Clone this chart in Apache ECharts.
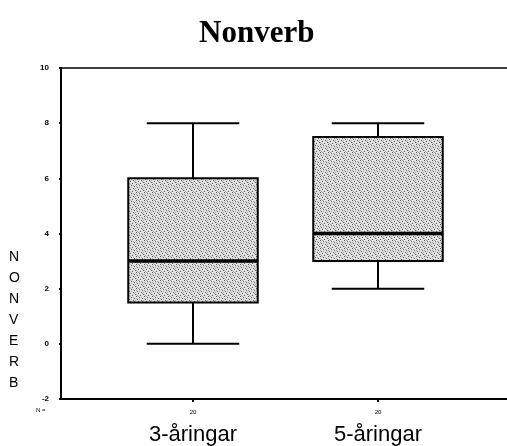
<!DOCTYPE html>
<html><head><meta charset="utf-8">
<script src="https://cdn.jsdelivr.net/npm/echarts@6/dist/echarts.min.js"></script>
<style>html,body{margin:0;padding:0;background:#fff}#c{width:507px;height:446px}</style>
</head><body><div id="c"></div>
<script>
const categories = ['3-åringar', '5-åringar'];
const nCounts = [20, 20];
const mins = [0, 2];
const q1s = [1.5, 3];
const medians = [3, 4];
const q3s = [6, 7.5];
const maxs = [8, 8];
const yTicks = [-2, 0, 2, 4, 6, 8, 10];

const boxData = categories.map((c, i) => [i, mins[i], q1s[i], medians[i], q3s[i], maxs[i]]);

// stipple pattern
const pc = document.createElement('canvas');
pc.width = 8; pc.height = 8;
const pctx = pc.getContext('2d');
pctx.fillStyle = '#e2e2e2'; pctx.fillRect(0, 0, 8, 8);
pctx.fillStyle = '#555';
[[0,0],[3,1],[6,2],[1,3],[5,4],[2,5],[7,6],[4,7]].forEach(p => pctx.fillRect(p[0], p[1], 1, 1));
pctx.fillStyle = '#aaa';
[[2,0],[5,1],[0,2],[3,3],[7,4],[6,5],[0,6],[1,7]].forEach(p => pctx.fillRect(p[0], p[1], 1, 1));

const chart = echarts.init(document.getElementById('c'), null, {renderer: 'canvas'});
chart.setOption({
  animation: false,
  title: {
    text: 'Nonverb', left: 194, top: 13,
    textStyle: {fontFamily: 'Liberation Serif', fontWeight: 'bold', fontSize: 31, color: '#000'}
  },
  graphic: [
    {type: 'text', left: 9, top: 247, style: {text: 'N\nO\nN\nV\nE\nR\nB', font: '14px "Liberation Sans"', lineHeight: 21, fill: '#000', align: 'center'}},
    {type: 'text', left: 36, top: 407, style: {text: 'N =', font: '6px "Liberation Sans"', fill: '#000'}}
  ],
  grid: [
    {left: 61, right: 0, top: 68, bottom: 47},
    {left: 100.5, width: 370, top: 68, bottom: 47}
  ],
  xAxis: [
    {gridIndex: 0, type: 'value', min: 0, max: 1, position: 'bottom',
      axisLine: {show: true, onZero: false, lineStyle: {color: '#000', width: 2}}, axisTick: {show: false}, axisLabel: {show: false}, splitLine: {show: false}},
    {gridIndex: 0, type: 'value', min: 0, max: 1, position: 'top',
      axisLine: {show: true, onZero: false, lineStyle: {color: '#000', width: 1.5}}, axisTick: {show: false}, axisLabel: {show: false}, splitLine: {show: false}},
    {gridIndex: 1, type: 'category', data: categories, position: 'bottom',
      axisLine: {show: false, onZero: false}, axisTick: {show: true, alignWithLabel: true, length: 3, lineStyle: {color: '#000', width: 2}},
      axisLabel: {
        margin: 7, interval: 0,
        formatter: (v, i) => '{n|' + nCounts[i] + '}\n{c|' + v + '}',
        rich: {
          n: {fontSize: 6, fontFamily: 'Liberation Sans', color: '#000', lineHeight: 12},
          c: {fontSize: 22, fontFamily: 'Liberation Sans', color: '#000', lineHeight: 34}
        }
      }, splitLine: {show: false}}
  ],
  yAxis: [
    {gridIndex: 0, type: 'value', min: -2, max: 10, interval: 2,
      axisLine: {show: true, lineStyle: {color: '#000', width: 2}},
      axisTick: {show: true, length: 2, lineStyle: {color: '#000', width: 2}},
      axisLabel: {fontSize: 8, fontWeight: 'bold', fontFamily: 'Liberation Sans', color: '#000', margin: 12,
        formatter: v => yTicks.includes(v) ? String(v) : ''},
      splitLine: {show: false}},
    {gridIndex: 1, type: 'value', min: -2, max: 10, interval: 2, show: false}
  ],
  series: [{
    type: 'custom', xAxisIndex: 2, yAxisIndex: 1,
    data: boxData,
    renderItem: function (params, api) {
      const x = api.value(0);
      const band = api.size([1, 0])[0];
      const bw = band * 0.70, cw = band * 0.50;
      const pMin = api.coord([x, api.value(1)]);
      const pQ1 = api.coord([x, api.value(2)]);
      const pMed = api.coord([x, api.value(3)]);
      const pQ3 = api.coord([x, api.value(4)]);
      const pMax = api.coord([x, api.value(5)]);
      const cx = pMed[0];
      const ls = {stroke: '#000', lineWidth: 2};
      return {type: 'group', children: [
        {type: 'line', shape: {x1: cx, y1: pMax[1], x2: cx, y2: pQ3[1]}, style: ls},
        {type: 'line', shape: {x1: cx, y1: pMin[1], x2: cx, y2: pQ1[1]}, style: ls},
        {type: 'line', shape: {x1: cx - cw / 2, y1: pMax[1], x2: cx + cw / 2, y2: pMax[1]}, style: ls},
        {type: 'line', shape: {x1: cx - cw / 2, y1: pMin[1], x2: cx + cw / 2, y2: pMin[1]}, style: ls},
        {type: 'rect', shape: {x: cx - bw / 2, y: pQ3[1], width: bw, height: pQ1[1] - pQ3[1]},
          style: {fill: {image: pc, repeat: 'repeat'}, stroke: '#000', lineWidth: 2}},
        {type: 'line', shape: {x1: cx - bw / 2, y1: pMed[1], x2: cx + bw / 2, y2: pMed[1]}, style: {stroke: '#000', lineWidth: 3.5}}
      ]};
    }
  }]
});
</script></body></html>
